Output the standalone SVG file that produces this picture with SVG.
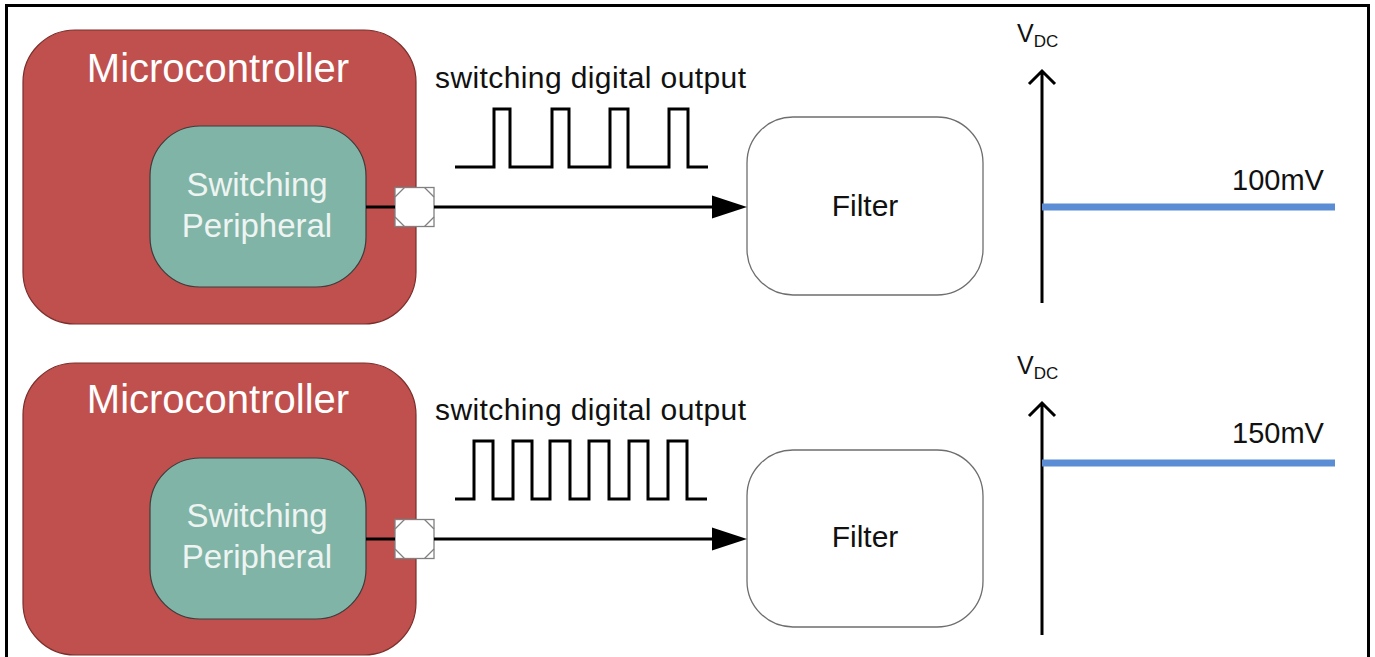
<svg xmlns="http://www.w3.org/2000/svg" width="1375" height="657" viewBox="0 0 1375 657">
<defs>
<style>
.mcu{fill:#C0504D;stroke:#7a2e2b;stroke-width:1.2}
.per{fill:#80B4A6;stroke:#3d3d3d;stroke-width:1.2}
.flt{fill:#fff;stroke:#6e6e6e;stroke-width:1.3}
.pin{fill:#fff;stroke:#808080;stroke-width:1.3}
.pinc{stroke:#808080;stroke-width:1.3;fill:none}
.wire{stroke:#000;stroke-width:3;fill:none}
.wave{stroke:#000;stroke-width:3;fill:none;stroke-linejoin:miter}
.axis{stroke:#000;stroke-width:3;fill:none}
.lvl{stroke:#5A8DD3;stroke-width:7}
text{font-family:"Liberation Sans",Arial,sans-serif}
.tm{font-size:40px;fill:#fff;text-anchor:middle}
.tp{font-size:33px;fill:#EEF4F2;text-anchor:middle}
.tf{font-size:30px;fill:#111;text-anchor:middle}
.ts{font-size:30px;fill:#111}
.tv{font-size:29px;fill:#111}
.tvd{font-size:25px;fill:#111}
.tsub{font-size:17px}
</style>
<marker id="ah" markerWidth="12" markerHeight="8" refX="12" refY="4" orient="auto" markerUnits="strokeWidth">
<path d="M0,0 L12,4 L0,8 Z" fill="#000"/>
</marker>
</defs>
<rect width="1375" height="657" fill="#fff"/>
<path d="M6.5,660 V5.5 H1368.5 V660" fill="none" stroke="#000" stroke-width="3"/>

<g id="mcu1">
<rect class="mcu" x="23" y="30" width="393" height="294" rx="52" ry="52"/>
<text class="tm" x="218" y="82">Microcontroller</text>
</g>
<g id="periph1">
<rect class="per" x="150" y="126" width="216" height="161" rx="50" ry="50"/>
<text class="tp" x="257" y="196">Switching</text>
<text class="tp" x="257" y="237">Peripheral</text>
</g>
<g id="pin1">
<rect class="pin" x="395" y="187.5" width="39" height="39"/>
<path class="pinc" d="M395,197 L404.5,187.5 M424.5,187.5 L434,197 M434,217 L424.5,226.5 M404.5,226.5 L395,217"/>
</g>
<g id="filter1">
<rect class="flt" x="747" y="117" width="236" height="178" rx="46" ry="46"/>
<text class="tf" x="865" y="216">Filter</text>
</g>
<g id="signal1">
<text class="ts" x="435" y="88" textLength="311">switching digital output</text>
<path class="wave" d="M455,167 H494 V109 H510 V167 H552 V109 H569 V167 H610 V109 H628 V167 H669 V109 H688 V167 H708"/>
</g>
<g id="graph1">
<path class="axis" d="M1042,303 V71 M1029,84 L1042,71 L1055,84"/>
<line class="lvl" x1="1042" y1="207" x2="1335" y2="207"/>
<text class="tvd" x="1017" y="42">V<tspan class="tsub" dy="5">DC</tspan></text>
<text class="tv" x="1232" y="190">100mV</text>
</g>

<g id="mcu2">
<rect class="mcu" x="23" y="363" width="393" height="292" rx="52" ry="52"/>
<text class="tm" x="218" y="413">Microcontroller</text>
</g>
<g id="periph2">
<rect class="per" x="150" y="458" width="216" height="161" rx="50" ry="50"/>
<text class="tp" x="257" y="527">Switching</text>
<text class="tp" x="257" y="568">Peripheral</text>
</g>
<g id="pin2">
<rect class="pin" x="395" y="519.5" width="39" height="39"/>
<path class="pinc" d="M395,529 L404.5,519.5 M424.5,519.5 L434,529 M434,549 L424.5,558.5 M404.5,558.5 L395,549"/>
</g>
<g id="filter2">
<rect class="flt" x="747" y="450" width="236" height="177" rx="46" ry="46"/>
<text class="tf" x="865" y="547">Filter</text>
</g>
<g id="signal2">
<text class="ts" x="435" y="420" textLength="311">switching digital output</text>
<path class="wave" d="M455,499 H474 V441 H493 V499 H513 V441 H532 V499 H550 V441 H570 V499 H589 V441 H609 V499 H629 V441 H648 V499 H668 V441 H687 V499 H707"/>
</g>
<g id="graph2">
<path class="axis" d="M1042,635 V403 M1029,416 L1042,403 L1055,416"/>
<line class="lvl" x1="1042" y1="463" x2="1335" y2="463"/>
<text class="tvd" x="1017" y="374">V<tspan class="tsub" dy="5">DC</tspan></text>
<text class="tv" x="1232" y="443">150mV</text>
</g>

<g id="connectors">
<line class="wire" x1="366" y1="207" x2="395" y2="207"/>
<line class="wire" x1="434" y1="207" x2="712" y2="207"/>
<path d="M712,195.5 L747,207 L712,218.5 Z" fill="#000"/>
<line class="wire" x1="366" y1="539" x2="395" y2="539"/>
<line class="wire" x1="434" y1="539" x2="712" y2="539"/>
<path d="M712,527.5 L747,539 L712,550.5 Z" fill="#000"/>
</g>
</svg>
